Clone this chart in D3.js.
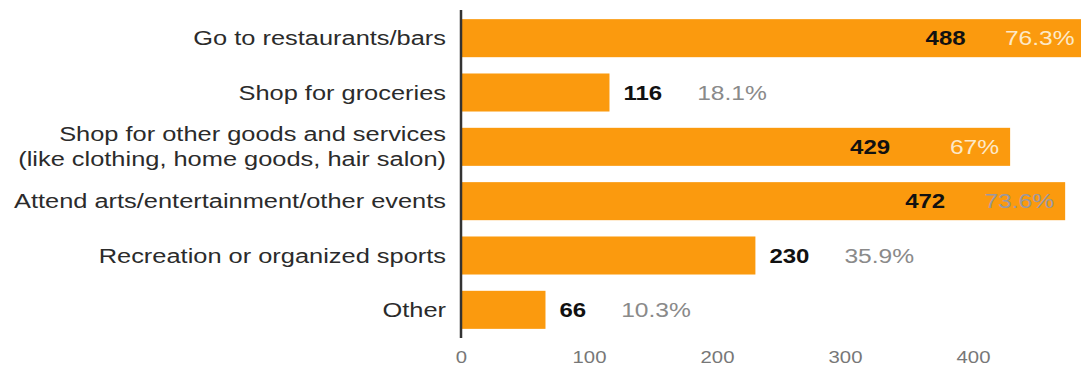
<!DOCTYPE html>
<html>
<head>
<meta charset="utf-8">
<script src="https://cdn.jsdelivr.net/npm/d3@7/dist/d3.min.js"></script>
<style>
  html, body { margin: 0; padding: 0; background: #ffffff; }
  svg { display: block; }
  text { font-family: "Liberation Sans", Arial, Helvetica, sans-serif; }
</style>
</head>
<body>
<svg id="chart" width="1081" height="372"></svg>
<script>
// ---- data ----
const categories = [
  ["Go to restaurants/bars"],
  ["Shop for groceries"],
  ["Shop for other goods and services", "(like clothing, home goods, hair salon)"],
  ["Attend arts/entertainment/other events"],
  ["Recreation or organized sports"],
  ["Other"]
];
const counts = [488, 116, 429, 472, 230, 66];
const percents = ["76.3%", "18.1%", "67%", "73.6%", "35.9%", "10.3%"];
const tickValues = [0, 100, 200, 300, 400];

// ---- layout ----
const W = 1081, H = 372;
const stretch = 1.27;
const svg = d3.select("#chart");

const x = d3.scaleLinear().domain([0, 400]).range([461, 973]);
const y = d3.scaleBand().domain(d3.range(categories.length)).range([11, 337])
  .paddingInner(0.3).paddingOuter(0.15);

// bars
svg.append("g").selectAll("rect").data(counts).join("rect")
  .attr("x", x(0))
  .attr("y", (d, i) => y(i))
  .attr("width", d => x(d) - x(0))
  .attr("height", y.bandwidth())
  .attr("fill", "#fb9a0e");

// axis line
svg.append("line")
  .attr("x1", x(0)).attr("x2", x(0))
  .attr("y1", 10).attr("y2", 338)
  .attr("stroke", "#333").attr("stroke-width", 2.5);

// category labels
const lab = svg.append("g").selectAll("g").data(categories).join("g")
  .attr("transform", (d, i) => `translate(446,${y(i) + y.bandwidth() / 2}) scale(${stretch},1)`);
lab.each(function (lines) {
  const g = d3.select(this);
  const lh = 25;
  const off = -(lines.length - 1) * lh / 2;
  lines.forEach((t, k) => {
    g.append("text")
      .attr("x", 0).attr("y", off + k * lh)
      .attr("dy", "0.35em")
      .attr("text-anchor", "end")
      .attr("font-size", 20)
      .attr("fill", "#2b2b2b")
      .text(t);
  });
});

// value + percent labels
const inside = d => d > 300;
const vg = svg.append("g");
counts.forEach((d, i) => {
  const cy = y(i) + y.bandwidth() / 2;
  if (inside(d)) {
    vg.append("text")
      .attr("transform", `translate(${x(d) - 120},${cy}) scale(1.2,1)`)
      .attr("dy", "0.35em").attr("text-anchor", "end")
      .attr("font-size", 20).attr("font-weight", "bold").attr("fill", "#111")
      .text(d);
    vg.append("text")
      .attr("transform", `translate(${x(d) - 11},${cy}) scale(1.23,1)`)
      .attr("dy", "0.35em").attr("text-anchor", "end")
      .attr("font-size", 20).attr("fill", d === 472 ? "#9a98a0" : "#fde9c8")
      .text(percents[i]);
  } else {
    const vt = vg.append("text")
      .attr("transform", `translate(${x(d) + 14},${cy}) scale(1.2,1)`)
      .attr("dy", "0.35em").attr("text-anchor", "start")
      .attr("font-size", 20).attr("font-weight", "bold").attr("fill", "#111")
      .text(d);
    const vw = vt.node().getComputedTextLength() * 1.2;
    vg.append("text")
      .attr("transform", `translate(${x(d) + 14 + vw + 35},${cy}) scale(1.23,1)`)
      .attr("dy", "0.35em").attr("text-anchor", "start")
      .attr("font-size", 20).attr("fill", "#8a8a8a")
      .text(percents[i]);
  }
});

// x axis
const ax = svg.append("g").attr("transform", "translate(0,340)")
  .call(d3.axisBottom(x).tickValues(tickValues).tickSize(0).tickPadding(12));
ax.select(".domain").remove();
ax.selectAll("text")
  .attr("font-size", 16)
  .attr("font-family", "Liberation Sans, Arial, sans-serif")
  .attr("fill", "#777")
  .attr("transform", `scale(${stretch},1)`);
</script>
</body>
</html>
